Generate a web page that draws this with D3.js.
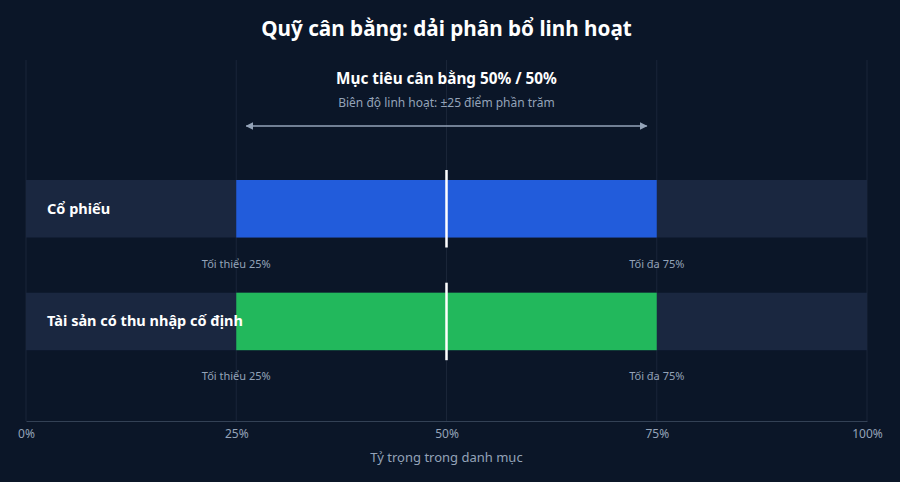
<!DOCTYPE html>
<html><head><meta charset="utf-8">
<script src="https://cdn.jsdelivr.net/npm/d3@7/dist/d3.min.js"></script>
<style>
html,body{margin:0;padding:0;background:#0b1628;}
svg{display:block;font-family:"Noto Sans","Open Sans",sans-serif;}
</style></head><body>
<svg id="c" width="900" height="482"></svg>
<script>
const categories = ["Cổ phiếu", "Tài sản có thu nhập cố định"];
const minValues = [25, 25];
const maxValues = [75, 75];
const targetValues = [50, 50];
const barColors = ["#225cdb", "#22b85c"];
const minLabels = ["Tối thiểu 25%", "Tối thiểu 25%"];
const maxLabels = ["Tối đa 75%", "Tối đa 75%"];
const tickValues = [0, 25, 50, 75, 100];
const tickLabels = ["0%", "25%", "50%", "75%", "100%"];

const svg = d3.select("#c");
const W = 900, H = 482;
const m = {left: 26, right: 33};
const x = d3.scaleLinear().domain([0, 100]).range([m.left, W - m.right]);
const bh = 57.5;
const y = d3.scaleBand().domain(categories).range([180, 180 + 112.7 * 2]).paddingInner(0).paddingOuter(0);

svg.append("rect").attr("width", W).attr("height", H).attr("fill", "#0b1628");

// grid
svg.append("g").selectAll("line").data(tickValues).join("line")
  .attr("x1", d => x(d)).attr("x2", d => x(d))
  .attr("y1", 60).attr("y2", 421)
  .attr("stroke", "#1a2538").attr("stroke-width", 1);

// axis
const axis = d3.axisBottom(x).tickValues(tickValues).tickFormat((d, i) => tickLabels[i]).tickSize(0).tickPadding(8);
const ag = svg.append("g").attr("transform", "translate(0,421)").call(axis);
ag.select(".domain").attr("stroke", "#334155");
ag.selectAll("text").attr("fill", "#94a3b8").attr("font-size", 12).attr("font-family", "Noto Sans");

svg.append("text").attr("x", x(50)).attr("y", 462).attr("text-anchor", "middle")
  .attr("fill", "#94a3b8").attr("font-size", 13).text("Tỷ trọng trong danh mục");

// title
svg.append("text").attr("x", x(50)).attr("y", 36).attr("text-anchor", "middle")
  .attr("fill", "#ffffff").attr("font-size", 20.7).attr("font-weight", 700)
  .text("Quỹ cân bằng: dải phân bổ linh hoạt");

svg.append("text").attr("x", x(50)).attr("y", 84).attr("text-anchor", "middle")
  .attr("fill", "#ffffff").attr("font-size", 15.3).attr("font-weight", 700)
  .text("Mục tiêu cân bằng 50% / 50%");
svg.append("text").attr("x", x(50)).attr("y", 107).attr("text-anchor", "middle")
  .attr("fill", "#94a3b8").attr("font-size", 12)
  .text("Biên độ linh hoạt: ±25 điểm phần trăm");

// arrow
const defs = svg.append("defs");
defs.append("marker").attr("id", "ah").attr("viewBox", "0 0 10 10").attr("refX", 9).attr("refY", 5)
  .attr("markerWidth", 5).attr("markerHeight", 5).attr("orient", "auto-start-reverse")
  .append("path").attr("d", "M0,0L10,5L0,10Z").attr("fill", "#94a3b8");
svg.append("line").attr("x1", x(25) + 10).attr("x2", x(75) - 10).attr("y1", 126).attr("y2", 126)
  .attr("stroke", "#94a3b8").attr("stroke-width", 1.5)
  .attr("marker-start", "url(#ah)").attr("marker-end", "url(#ah)");

// rows
const rows = svg.append("g").selectAll("g").data(categories).join("g");
rows.append("rect").attr("x", x(0)).attr("width", x(100) - x(0))
  .attr("y", d => y(d)).attr("height", bh).attr("fill", "#1a2740");
rows.append("rect").attr("x", (d, i) => x(minValues[i])).attr("width", (d, i) => x(maxValues[i]) - x(minValues[i]))
  .attr("y", d => y(d)).attr("height", bh).attr("fill", (d, i) => barColors[i]);
rows.append("line").attr("x1", (d, i) => x(targetValues[i])).attr("x2", (d, i) => x(targetValues[i]))
  .attr("y1", d => y(d) - 10).attr("y2", d => y(d) + bh + 10)
  .attr("stroke", "#ffffff").attr("stroke-width", 2.5);
rows.append("text").attr("x", 47).attr("y", d => y(d) + bh / 2 + 5)
  .attr("fill", "#ffffff").attr("font-size", 14.5).attr("font-weight", 700).text(d => d);
rows.append("text").attr("x", (d, i) => x(minValues[i])).attr("y", d => y(d) + bh + 30)
  .attr("text-anchor", "middle").attr("fill", "#94a3b8").attr("font-size", 11).text((d, i) => minLabels[i]);
rows.append("text").attr("x", (d, i) => x(maxValues[i])).attr("y", d => y(d) + bh + 30)
  .attr("text-anchor", "middle").attr("fill", "#94a3b8").attr("font-size", 11).text((d, i) => maxLabels[i]);
</script>
</body></html>
